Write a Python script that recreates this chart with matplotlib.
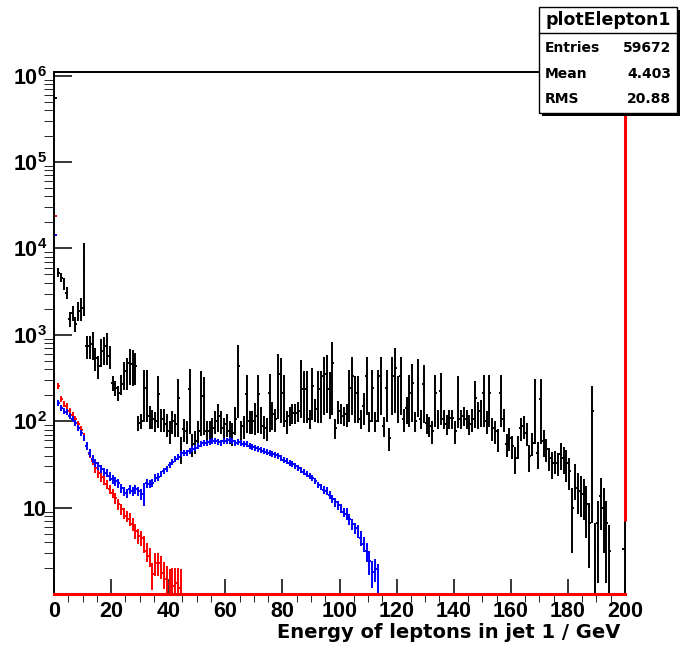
import numpy as np
import matplotlib
matplotlib.use("Agg")
import matplotlib.pyplot as plt
from matplotlib.patches import Rectangle
from matplotlib.ticker import LogLocator, NullFormatter, MultipleLocator, FixedLocator, FixedFormatter

# bin contents (1 GeV bins, 0..200 GeV)
black_vals = [550000, 5250, 4590, 3910, 3080, 1540, 1810, 1350, 1900, 2060,
              6670, 748, 748, 789, 543, 439, 655, 690, 748, 573,
              279, 244, 213, 271, 354, 384, 475, 463, 439, 95.8,
              101, 244, 244, 116, 107, 101, 208, 107, 107, 93.2,
              77.4, 101, 93.2, 187, 49.2, 81.7, 77.4, 237, 54.7, 59.3,
              77.4, 225, 197, 77.4, 77.4, 83.9, 101, 116, 101, 83.9,
              93.2, 77.4, 73.4, 107, 439, 77.4, 88.5, 208, 101, 101,
              116, 208, 109, 88.5, 83.9, 213, 122, 107, 354, 318,
              213, 101, 116, 125, 125, 132, 310, 237, 237, 107,
              257, 139, 237, 237, 336, 354, 237, 475, 83.9, 132,
              125, 116, 122, 244, 336, 213, 213, 107, 151, 336,
              101, 244, 101, 244, 336, 88.5, 244, 64.2, 336, 416,
              213, 336, 107, 143, 213, 279, 101, 318, 107, 271,
              95.8, 88.5, 77.4, 213, 107, 225, 107, 93.2, 109, 109,
              77.4, 208, 107, 116, 107, 93.2, 107, 187, 125, 132,
              213, 101, 213, 83.9, 77.4, 62.5, 213, 107, 54.7, 64.2,
              51.9, 37.7, 51.9, 83.9, 88.5, 73.4, 39.7, 56.2, 182, 43.0,
              182, 59.3, 47.9, 37.7, 33.0, 34.8, 33.0, 41.9, 37.7, 33.0,
              26.6, 9.9, 22.1, 16.9, 15.6, 14.4, 11.0, 6.65, 132, 3.3,
              6.65, 13.7, 9.9, 6.65, 3.15, 0, 0, 0, 0, 3.3]
# relative errors (error / content)
black_rel = [0.02, 0.12, 0.12, 0.15, 0.15, 0.2, 0.2, 0.2, 0.25, 0.3,
             0.75, 0.3, 0.3, 0.35, 0.3, 0.3, 0.35, 0.35, 0.4, 0.3,
             0.2, 0.2, 0.2, 0.25, 0.35, 0.4, 0.45, 0.45, 0.4, 0.2,
             0.2, 0.6, 0.6, 0.3, 0.25, 0.25, 0.6, 0.3, 0.3, 0.3,
             0.3, 0.3, 0.3, 0.65, 0.35, 0.3, 0.3, 0.7, 0.3, 0.3,
             0.3, 0.7, 0.65, 0.3, 0.3, 0.3, 0.3, 0.35, 0.3, 0.3,
             0.3, 0.3, 0.3, 0.35, 0.75, 0.3, 0.3, 0.65, 0.3, 0.3,
             0.4, 0.65, 0.35, 0.3, 0.3, 0.65, 0.35, 0.3, 0.7, 0.7,
             0.6, 0.3, 0.25, 0.25, 0.25, 0.25, 0.65, 0.6, 0.6, 0.25,
             0.6, 0.3, 0.6, 0.6, 0.65, 0.65, 0.55, 0.75, 0.25, 0.3,
             0.25, 0.25, 0.3, 0.6, 0.65, 0.55, 0.55, 0.25, 0.4, 0.65,
             0.25, 0.6, 0.25, 0.6, 0.65, 0.25, 0.6, 0.3, 0.65, 0.7,
             0.55, 0.65, 0.3, 0.35, 0.6, 0.65, 0.25, 0.65, 0.25, 0.65,
             0.25, 0.25, 0.3, 0.6, 0.25, 0.6, 0.25, 0.25, 0.25, 0.25,
             0.3, 0.6, 0.25, 0.25, 0.25, 0.25, 0.3, 0.55, 0.35, 0.35,
             0.6, 0.3, 0.6, 0.3, 0.3, 0.3, 0.6, 0.3, 0.3, 0.3,
             0.3, 0.35, 0.3, 0.3, 0.3, 0.3, 0.35, 0.3, 0.7, 0.35,
             0.7, 0.35, 0.3, 0.3, 0.35, 0.3, 0.3, 0.35, 0.35, 0.4,
             0.4, 0.7, 0.45, 0.5, 0.5, 0.5, 0.6, 0.7, 0.95, 1.0,
             0.8, 0.6, 0.7, 0.8, 1.0, 0, 0, 0, 0, 0]

blue_vals = [14100, 163, 143, 132, 129, 116, 107, 95.8, 83.9, 73.4,
             64.2, 51.9, 43.0, 36.7, 33.0, 30.4, 28.1, 25.9, 25.2, 23.3,
             21.5, 20.4, 19.3, 16.9, 15.6, 14.8, 16.5, 15.6, 16.5, 15.6,
             14.4, 14.8, 19.3, 18.8, 19.3, 22.1, 22.7, 24.6, 26.6, 28.1,
             31.3, 33.9, 36.7, 38.7, 41.9, 43.0, 43.0, 45.4, 47.9, 49.2,
             51.9, 54.7, 56.2, 56.2, 57.7, 59.3, 59.3, 57.7, 56.2, 59.3,
             59.3, 60.9, 59.3, 56.2, 57.7, 56.2, 54.7, 54.7, 51.9, 50.5,
             49.2, 47.9, 46.6, 45.4, 44.2, 43.0, 41.9, 40.8, 39.7, 37.7,
             35.7, 34.8, 33.0, 32.1, 30.4, 28.8, 27.3, 25.9, 24.6, 23.3,
             22.1, 20.4, 18.3, 17.4, 16.0, 15.6, 14.0, 12.6, 11.6, 10.7,
             9.9, 8.9, 8.5, 7.4, 6.5, 5.8, 5.4, 4.5, 3.8, 3.15,
             2.4, 1.8, 1.95, 1.17]
blue_rel = [0.02, 0.08, 0.08, 0.08, 0.08, 0.08, 0.08, 0.08, 0.08, 0.08,
            0.08, 0.1, 0.1, 0.1, 0.1, 0.1, 0.1, 0.1, 0.1, 0.12,
            0.12, 0.12, 0.12, 0.12, 0.12, 0.12, 0.12, 0.12, 0.12, 0.12,
            0.15, 0.3, 0.12, 0.1, 0.1, 0.1, 0.1, 0.08, 0.08, 0.08,
            0.07, 0.07, 0.07, 0.07, 0.07, 0.07, 0.07, 0.07, 0.07, 0.07,
            0.07, 0.07, 0.07, 0.07, 0.07, 0.07, 0.07, 0.07, 0.07, 0.07,
            0.07, 0.07, 0.07, 0.07, 0.07, 0.07, 0.07, 0.07, 0.07, 0.07,
            0.07, 0.07, 0.07, 0.07, 0.07, 0.07, 0.07, 0.07, 0.07, 0.07,
            0.07, 0.07, 0.07, 0.07, 0.07, 0.07, 0.07, 0.07, 0.07, 0.07,
            0.08, 0.08, 0.08, 0.08, 0.1, 0.1, 0.1, 0.1, 0.12, 0.12,
            0.12, 0.12, 0.15, 0.15, 0.15, 0.15, 0.18, 0.2, 0.2, 0.25,
            0.3, 0.35, 0.3, 0.9]

red_vals = [24000, 257, 182, 159, 151, 132, 119, 107, 93.2, 79.4,
            65.9, 51.9, 41.9, 34.8, 28.8, 25.2, 22.7, 20.9, 18.8, 16.5,
            14.8, 12.9, 11.0, 9.66, 8.69, 8.01, 7.4, 6.5, 5.4, 4.7,
            4.5, 3.8, 3.15, 2.75, 1.7, 2.29, 2.29, 2.11, 1.75, 1.49,
            1.31, 1.24, 1.34, 1.17, 1.03]
red_rel = [0.02, 0.08, 0.08, 0.08, 0.08, 0.08, 0.08, 0.08, 0.08, 0.1,
           0.1, 0.1, 0.1, 0.1, 0.12, 0.12, 0.12, 0.12, 0.12, 0.12,
           0.12, 0.15, 0.15, 0.15, 0.15, 0.15, 0.18, 0.18, 0.2, 0.2,
           0.2, 0.22, 0.25, 0.25, 0.35, 0.3, 0.3, 0.3, 0.35, 0.4,
           0.5, 0.6, 0.5, 0.7, 0.9]

y_ticks = [10, 1e2, 1e3, 1e4, 1e5, 1e6]
y_labels = ['10', r'$\mathbf{10^{2}}$', r'$\mathbf{10^{3}}$', r'$\mathbf{10^{4}}$',
            r'$\mathbf{10^{5}}$', r'$\mathbf{10^{6}}$']
x_ticks = list(range(0, 201, 20))
stat_rows = [('Entries', '59672'), ('Mean', '4.403'), ('RMS', '20.88')]

plt.rcParams['mathtext.fontset'] = 'custom'
plt.rcParams['mathtext.bf'] = 'Liberation Sans:bold'
plt.rcParams['mathtext.rm'] = 'Liberation Sans:bold'

W, H = 680, 651
fig = plt.figure(figsize=(6.8, 6.51), dpi=100)
ax = fig.add_axes([54 / W, 1 - 594 / H, 571 / W, 522 / H])


def px(x, y):
    return x / W, 1 - y / H


def draw_hist(vals, rel, color):
    v = np.array(vals, dtype=float)
    e = v * np.array(rel, dtype=float)
    x = np.arange(len(v)) + 0.5
    m = v > 0
    ax.errorbar(x[m], v[m], xerr=0.5, yerr=e[m], fmt='none', ecolor=color,
                elinewidth=1.4, capsize=0)


draw_hist(black_vals, black_rel, 'black')
draw_hist(red_vals, red_rel, '#ff0000')
draw_hist(blue_vals, blue_rel, '#0000ff')

ax.set_yscale('log', nonpositive='clip')
ax.set_xlim(0, 200)
ax.set_ylim(1, 1.1e6)

# red outline of the empty red histogram along the bottom and right edge
ax.axhline(1, color='#ff0000', lw=2.2, zorder=3, clip_on=False)
ax.vlines(200, 7, 1.1e6, color='#ff0000', lw=2.2, zorder=3, clip_on=False)

ax.yaxis.set_major_locator(FixedLocator(y_ticks))
ax.yaxis.set_major_formatter(FixedFormatter(y_labels))
ax.yaxis.set_minor_locator(LogLocator(base=10, subs=np.arange(2, 10), numticks=20))
ax.yaxis.set_minor_formatter(NullFormatter())
ax.set_xticks(x_ticks)
ax.xaxis.set_minor_locator(MultipleLocator(5))

for s in ax.spines.values():
    s.set_linewidth(1.4)
ax.tick_params(direction='in', top=False, right=False, width=1.1, pad=5)
ax.tick_params(axis='x', which='major', length=11)
ax.tick_params(axis='x', which='minor', length=5.5)
ax.tick_params(axis='y', which='major', length=13)
ax.tick_params(axis='y', which='minor', length=7)
for lab in ax.get_xticklabels() + ax.get_yticklabels():
    lab.set_family('Liberation Sans')
    lab.set_weight('bold')
    lab.set_fontsize(15.5)

fig.text(*px(620, 632), 'Energy of leptons in jet 1 / GeV', ha='right', va='center',
         family='DejaVu Sans', weight='bold', fontsize=14)

# statistics box
x0, x1, y0, y1 = 539, 677, 7, 113
fig.add_artist(Rectangle(px(x0 + 3, y1 + 3), (x1 - x0) / W, (y1 - y0) / H,
                         transform=fig.transFigure, facecolor='black', edgecolor='none', zorder=9))
fig.add_artist(Rectangle(px(x0, y1), (x1 - x0) / W, (y1 - y0) / H,
                         transform=fig.transFigure, facecolor='white', edgecolor='black',
                         lw=1.0, zorder=10))
fig.add_artist(plt.Line2D([x0 / W, x1 / W], [1 - 33 / H, 1 - 33 / H],
                          transform=fig.transFigure, color='black', lw=1.0, zorder=11))
fig.text(*px((x0 + x1) / 2, 20), 'plotElepton1', ha='center', va='center',
         family='DejaVu Sans', weight='bold', fontsize=12.5, zorder=12)
for i, (name, val) in enumerate(stat_rows):
    yy = 48 + i * 25.5
    fig.text(*px(545, yy), name, ha='left', va='center', family='DejaVu Sans',
             weight='bold', fontsize=10, zorder=12)
    fig.text(*px(671, yy), val, ha='right', va='center', family='DejaVu Sans',
             weight='bold', fontsize=10, zorder=12)

fig.savefig('out.png', dpi=100)
